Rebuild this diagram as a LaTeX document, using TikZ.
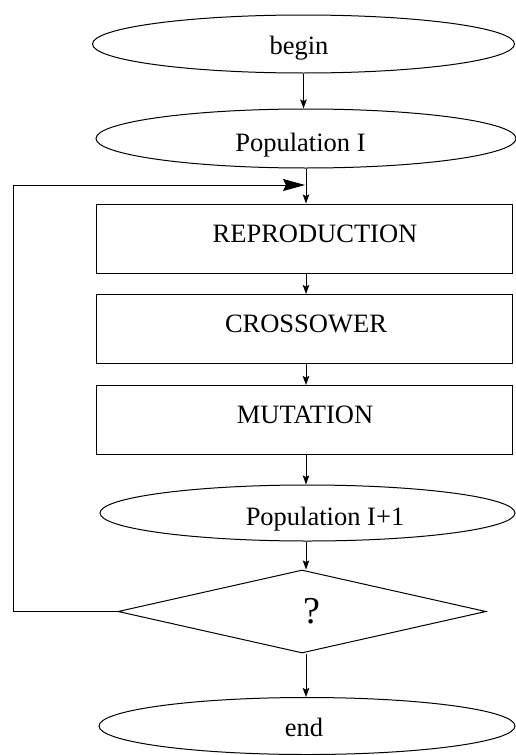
\documentclass[tikz,border=0pt]{standalone}
\usepackage{fontspec}
\setmainfont{Liberation Serif}
\usetikzlibrary{shapes.geometric,arrows.meta}
\begin{document}
\begin{tikzpicture}[x=1pt,y=-1pt,line width=1pt,
  ell/.style={draw,ellipse,inner sep=0pt},
  box/.style={draw,rectangle,inner sep=0pt,minimum width=416pt,minimum height=69pt},
  txt/.style={anchor=base,inner sep=0pt,font=\fontsize{26.5}{30}\selectfont},
  arr/.style={-{Stealth[length=9pt,width=6.5pt,inset=1.5pt]}},
  bigarr/.style={-{Stealth[length=22pt,width=12pt,inset=3pt]}}]
\useasboundingbox (0,0) rectangle (515,755);
\coordinate (axis) at (306,0);
% shapes
\node[ell,minimum width=422pt,minimum height=58pt] (begin) at (303.5,44) {};
\node[ell,minimum width=420pt,minimum height=59pt] (pop1) at (306,138.5) {};
\node[box] (repro) at (304,238.5) {};
\node[box] (cross) at (304,329) {};
\node[box] (mut) at (304,420) {};
\node[ell,minimum width=415pt,minimum height=56pt] (pop2) at (307.5,513) {};
\node[draw,diamond,inner sep=0pt,minimum width=368pt,minimum height=83pt] (dec) at (302,611.5) {};
\node[ell,minimum width=416pt,minimum height=57pt] (end) at (307,726) {};
% texts
\node[txt] (tbegin) at (299,54) {begin};
\node[txt] (tpop1) at (300.5,151.7) {Population I};
\node[txt] (trepro) at (315,242.5) {REPRODUCTION};
\node[txt] (tcross) at (306,332.7) {CROSSOWER};
\node[txt] (tmut) at (305,423.3) {MUTATION};
\node[txt] (tpop2) at (325,525.5) {Population I+1};
\node[txt,font=\fontsize{38}{40}\selectfont] (tq) at (311.5,623.3) {?};
\node[txt] (tend) at (304,736) {end};
% connectors
\draw[arr] (begin.south) -- (begin.south |- pop1.north);
\draw[arr] (pop1.south -| axis) -- (repro.north -| axis);
\draw[arr] (repro.south -| axis) -- (cross.north -| axis);
\draw[arr] (cross.south -| axis) -- (mut.north -| axis);
\draw[arr] (mut.south -| axis) -- (pop2.north -| axis);
\draw[arr] (pop2.south -| axis) -- (dec.north -| axis);
\draw[arr] (dec.south -| axis) -- (end.north -| axis);
% feedback loop
\coordinate (fbend) at (305,185);
\coordinate (fbcorner) at (13,185);
\draw[bigarr] (dec.west) -- (dec.west -| fbcorner) -- (fbcorner) -- (fbend);
\end{tikzpicture}
\end{document}
